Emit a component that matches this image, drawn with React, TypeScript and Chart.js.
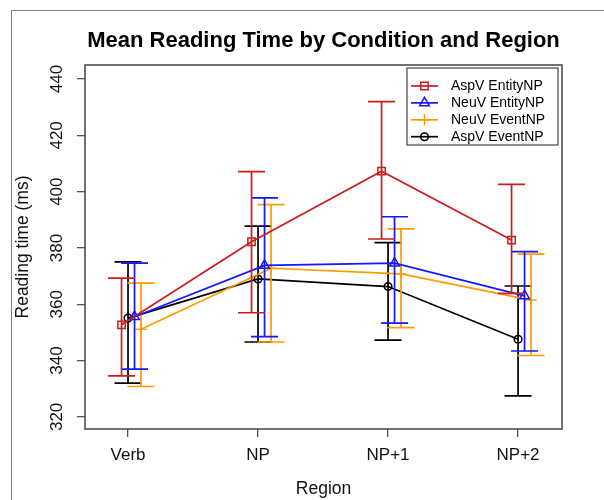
import React, { useEffect, useRef } from "react";
import { Chart, registerables, PointElement } from "chart.js";

Chart.register(...registerables);

const FONT = "'Liberation Sans', Arial, Helvetica, sans-serif";

const CATEGORIES = ["Verb", "NP", "NP+1", "NP+2"];
const Y_TICKS = [320, 340, 360, 380, 400, 420, 440];

const SERIES_LABELS = ["AspV EntityNP", "NeuV EntityNP", "NeuV EventNP", "AspV EventNP"];

const ASPV_ENTITY_MEAN = [352.7, 382.2, 407.3, 382.8];
const ASPV_ENTITY_LOW = [334.6, 357.0, 383.2, 363.9];
const ASPV_ENTITY_HIGH = [369.3, 407.1, 432.0, 402.6];

const NEUV_ENTITY_MEAN = [355.6, 373.8, 374.6, 363.0];
const NEUV_ENTITY_LOW = [337.0, 348.5, 353.3, 343.4];
const NEUV_ENTITY_HIGH = [374.6, 397.8, 391.1, 378.7];

const NEUV_EVENT_MEAN = [351.1, 372.8, 370.8, 361.5];
const NEUV_EVENT_LOW = [330.8, 346.6, 351.7, 341.8];
const NEUV_EVENT_HIGH = [367.5, 395.4, 386.8, 377.8];

const ASPV_EVENT_MEAN = [355.1, 369.0, 366.3, 347.6];
const ASPV_EVENT_LOW = [332.0, 346.6, 347.3, 327.5];
const ASPV_EVENT_HIGH = [375.1, 387.8, 381.9, 366.5];

const CAP_HALF = 13.5;

const SERIES = [
  { label: SERIES_LABELS[0], mean: ASPV_ENTITY_MEAN, low: ASPV_ENTITY_LOW, high: ASPV_ENTITY_HIGH, color: "#CC1C1C", pointStyle: "rect", radius: 5.2, dodge: -0.05 },
  { label: SERIES_LABELS[1], mean: NEUV_ENTITY_MEAN, low: NEUV_ENTITY_LOW, high: NEUV_ENTITY_HIGH, color: "#1616FF", pointStyle: "triangle", radius: 5.6, dodge: 0.05 },
  { label: SERIES_LABELS[2], mean: NEUV_EVENT_MEAN, low: NEUV_EVENT_LOW, high: NEUV_EVENT_HIGH, color: "#FF9A00", pointStyle: "cross", radius: 5.5, dodge: 0.1 },
  { label: SERIES_LABELS[3], mean: ASPV_EVENT_MEAN, low: ASPV_EVENT_LOW, high: ASPV_EVENT_HIGH, color: "#000000", pointStyle: "circle", radius: 3.8, dodge: 0 },
];

const errorBarPlugin = {
  id: "errorBars",
  afterDatasetDraw(chart: any, args: any) {
    const ds: any = chart.data.datasets[args.index];
    const meta = args.meta;
    const yScale = chart.scales.y;
    const ctx = chart.ctx;
    ctx.save();
    ctx.strokeStyle = ds.borderColor;
    ctx.lineWidth = ds.borderWidth;
    meta.data.forEach((pt: any, j: number) => {
      const x = pt.x;
      const yl = yScale.getPixelForValue(ds.errLow[j]);
      const yh = yScale.getPixelForValue(ds.errHigh[j]);
      ctx.beginPath();
      ctx.moveTo(x, yl);
      ctx.lineTo(x, yh);
      ctx.moveTo(x - CAP_HALF, yh);
      ctx.lineTo(x + CAP_HALF, yh);
      ctx.moveTo(x - CAP_HALF, yl);
      ctx.lineTo(x + CAP_HALF, yl);
      ctx.stroke();
    });
    ctx.restore();
  },
};

const frameAndLegendPlugin = {
  id: "frameAndLegend",
  beforeDatasetsDraw(chart: any) {
    const { ctx, chartArea } = chart;
    ctx.save();
    ctx.strokeStyle = "#444";
    ctx.lineWidth = 1.5;
    ctx.strokeRect(chartArea.left, chartArea.top, chartArea.right - chartArea.left, chartArea.bottom - chartArea.top);
    ctx.restore();
  },
  afterDraw(chart: any) {
    const { ctx, chartArea } = chart;
    const w = 151;
    const h = 77;
    const left = chartArea.right - 4 - w;
    const top = chartArea.top + 3;
    ctx.save();
    ctx.fillStyle = "#fff";
    ctx.fillRect(left, top, w, h);
    ctx.strokeStyle = "#444";
    ctx.lineWidth = 1.2;
    ctx.strokeRect(left, top, w, h);
    chart.data.datasets.forEach((ds: any, i: number) => {
      const cy = top + 18 + i * 16.9;
      ctx.strokeStyle = ds.borderColor;
      ctx.lineWidth = ds.borderWidth;
      ctx.beginPath();
      ctx.moveTo(left + 4, cy);
      ctx.lineTo(left + 31, cy);
      ctx.stroke();
      const meta = chart.getDatasetMeta(i);
      const opts = meta.data[0] && meta.data[0].options;
      if (opts) {
        const p: any = new PointElement({});
        p.x = left + 17.5;
        p.y = cy;
        p.options = opts;
        p.skip = false;
        p.draw(ctx, { left: 0, top: 0, right: chart.width, bottom: chart.height });
      }
      ctx.fillStyle = "#000";
      ctx.font = `14px ${FONT}`;
      ctx.textBaseline = "middle";
      ctx.textAlign = "left";
      ctx.fillText(ds.label, left + 44, cy);
    });
    ctx.restore();
  },
};

export default function App() {
  const ref = useRef<HTMLCanvasElement>(null);

  useEffect(() => {
    if (!ref.current) return;
    const datasets = SERIES.map((s) => ({
      label: s.label,
      data: s.mean.map((v, i) => ({ x: i + 1 + s.dodge, y: v })),
      errLow: s.low,
      errHigh: s.high,
      borderColor: s.color,
      borderWidth: 1.7,
      pointStyle: s.pointStyle,
      pointRadius: s.radius,
      pointHoverRadius: s.radius,
      pointBorderColor: s.color,
      pointBackgroundColor: "rgba(0,0,0,0)",
      pointBorderWidth: 1.5,
      fill: false,
      tension: 0,
    }));

    const chart = new Chart(ref.current, {
      type: "line",
      data: { datasets } as any,
      options: {
        responsive: false,
        maintainAspectRatio: false,
        animation: false,
        events: [],
        layout: { padding: { left: 0, right: 42, top: 0, bottom: 0 } },
        plugins: {
          legend: { display: false },
          tooltip: { enabled: false },
          title: {
            display: true,
            text: "Mean Reading Time by Condition and Region",
            fullSize: false,
            color: "#000",
            font: { size: 22, weight: "bold", family: FONT },
            padding: { top: 28, bottom: 10.6 },
          },
        },
        scales: {
          x: {
            type: "linear",
            min: 0.669,
            max: 4.338,
            afterBuildTicks: (s: any) => {
              s.ticks = CATEGORIES.map((_, i) => ({ value: i + 1 }));
            },
            afterFit: (s: any) => {
              s.height = 71;
            },
            grid: { drawOnChartArea: false, drawTicks: true, tickLength: 8, color: "#555", lineWidth: 1.3 },
            border: { display: false },
            ticks: {
              autoSkip: false,
              maxRotation: 0,
              padding: 8,
              color: "#111",
              font: { size: 17, family: FONT },
              callback: (v: any) => CATEGORIES[Math.round(Number(v)) - 1] ?? "",
            },
            title: {
              display: true,
              text: "Region",
              color: "#111",
              font: { size: 17.5, family: FONT },
              padding: { top: 0, bottom: 0 },
            },
          },
          y: {
            type: "linear",
            min: 315.7,
            max: 445.0,
            afterBuildTicks: (s: any) => {
              s.ticks = Y_TICKS.map((v) => ({ value: v }));
            },
            afterFit: (s: any) => {
              s.width = 85;
            },
            grid: { drawOnChartArea: false, drawTicks: true, tickLength: 8, color: "#555", lineWidth: 1.3 },
            border: { display: false },
            ticks: {
              autoSkip: false,
              minRotation: 90,
              maxRotation: 90,
              crossAlign: "center",
              padding: 6,
              color: "#111",
              font: { size: 17, family: FONT },
              callback: (v: any) => String(v),
            },
            title: {
              display: true,
              text: "Reading time (ms)",
              color: "#111",
              font: { size: 17.5, family: FONT },
              padding: { top: 13, bottom: 0 },
            },
          },
        },
      } as any,
      plugins: [errorBarPlugin, frameAndLegendPlugin],
    });
    return () => chart.destroy();
  }, []);

  return (
    <div style={{ position: "absolute", left: 0, top: 0, width: 604, height: 500, background: "#fff", overflow: "hidden" }}>
      <div
        style={{
          position: "absolute",
          left: 11,
          top: 10,
          width: 593,
          height: 490,
          borderLeft: "1.5px solid #808080",
          borderTop: "1.5px solid #808080",
          boxSizing: "border-box",
        }}
      />
      <canvas ref={ref} width={604} height={500} style={{ position: "absolute", left: 0, top: 0, width: 604, height: 500 }} />
    </div>
  );
}
